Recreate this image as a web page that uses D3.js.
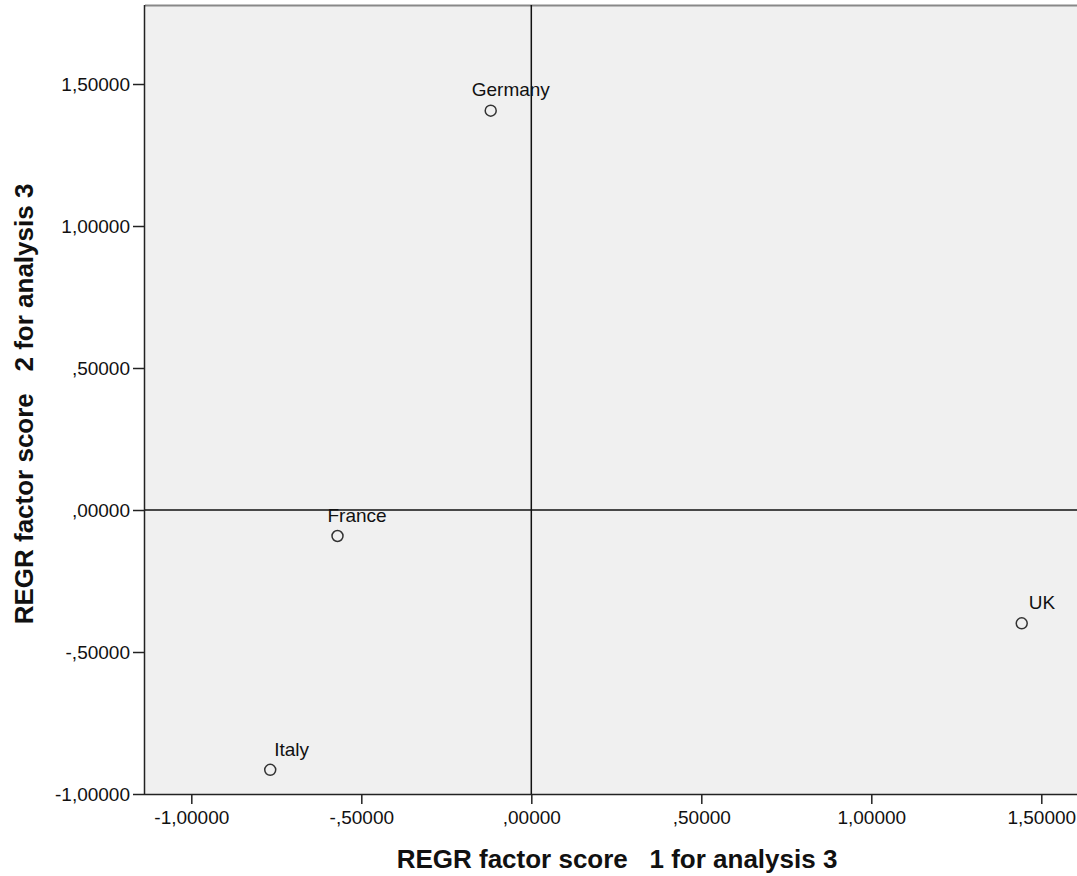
<!DOCTYPE html>
<html>
<head>
<meta charset="utf-8">
<script src="https://cdn.jsdelivr.net/npm/d3@7"></script>
<style>
  body { margin: 0; background: #fff; }
  text { font-family: "Liberation Sans", Arial, sans-serif; }
</style>
</head>
<body>
<div id="draw"></div>
<script>
let W = 1077, H = 876;

// data
let countries = ['Germany', 'France', 'UK', 'Italy'];
let factor1 = [-0.1194, -0.570, 1.4424, -0.7679];
let factor2 = [1.406, -0.0915, -0.399, -0.915];
let xTicks = [-1.0, -0.5, 0.0, 0.5, 1.0, 1.5];
let yTicks = [-1.0, -0.5, 0.0, 0.5, 1.0, 1.5];
// label offsets from the marker (px)
let labelDx = [-19, -10, 7, 4];
let labelDy = [-15, -14, -14, -14];

let fmt = function(v) {
  // SPSS style: comma decimal, no leading zero
  let s = Math.abs(v).toFixed(5).replace('.', ',');
  if (s.indexOf('0,') === 0) s = s.slice(1);
  return (v < 0 ? '-' : '') + s;
};

let pL = 145, pT = 5, pR = 1077, pB = 794;

let x = d3.scaleLinear().domain([-1.1362, 1.6050]).range([pL, pR]);
let y = d3.scaleLinear().domain([-1.0, 1.7782]).range([pB, pT]);

let svg = d3.select('#draw').append('svg').attr('width', W).attr('height', H);

// plot background
svg.append('rect')
  .attr('x', pL).attr('y', pT)
  .attr('width', pR - pL).attr('height', pB - pT)
  .attr('fill', '#f0f0f0');

// frame top (grey)
svg.append('line').attr('x1', pL).attr('x2', pR).attr('y1', pT + 0.5).attr('y2', pT + 0.5)
  .attr('stroke', '#888').attr('stroke-width', 2);

let xAxis = svg.append('g').attr('transform', 'translate(0,' + pB + ')')
  .call(d3.axisBottom(x).tickValues(xTicks).tickFormat(fmt).tickSize(10).tickPadding(7));
let yAxis = svg.append('g').attr('transform', 'translate(' + pL + ',0)')
  .call(d3.axisLeft(y).tickValues(yTicks).tickFormat(fmt).tickSize(12).tickPadding(3));

[xAxis, yAxis].forEach(function(a) {
  a.select('.domain').attr('stroke', '#222').attr('stroke-width', 1.5);
  a.selectAll('.tick line').attr('stroke', '#222').attr('stroke-width', 1.5);
  a.selectAll('.tick text').attr('fill', '#111').style('font-size', '19px')
    .style('font-family', '"Liberation Sans", Arial, sans-serif');
});
xAxis.select('.domain').attr('d', 'M' + pL + ',0.5H' + pR);
yAxis.select('.domain').attr('d', 'M-0.5,' + pT + 'V' + pB);

// reference lines at zero
svg.append('line').attr('x1', x(0)).attr('x2', x(0)).attr('y1', pT).attr('y2', pB)
  .attr('stroke', '#111').attr('stroke-width', 1.5);
svg.append('line').attr('x1', pL).attr('x2', pR).attr('y1', y(0)).attr('y2', y(0))
  .attr('stroke', '#111').attr('stroke-width', 1.5);

// points
let pts = svg.append('g').selectAll('g').data(countries).join('g');
pts.append('circle')
  .attr('cx', function(d, i) { return x(factor1[i]); })
  .attr('cy', function(d, i) { return y(factor2[i]); })
  .attr('r', 5.5)
  .attr('fill', 'none')
  .attr('stroke', '#333')
  .attr('stroke-width', 1.5);
pts.append('text')
  .attr('x', function(d, i) { return x(factor1[i]) + labelDx[i]; })
  .attr('y', function(d, i) { return y(factor2[i]) + labelDy[i]; })
  .attr('font-size', '19px')
  .attr('fill', '#111')
  .text(function(d) { return d; });

// axis titles
svg.append('text')
  .attr('x', 617).attr('y', 868)
  .attr('text-anchor', 'middle')
  .attr('font-size', '26px').attr('font-weight', 'bold').attr('fill', '#111')
  .style('white-space', 'pre')
  .text('REGR factor score   1 for analysis 3');
svg.append('text')
  .attr('transform', 'translate(33,404) rotate(-90)')
  .attr('text-anchor', 'middle')
  .attr('font-size', '26px').attr('font-weight', 'bold').attr('fill', '#111')
  .style('white-space', 'pre')
  .text('REGR factor score   2 for analysis 3');
</script>
</body>
</html>
